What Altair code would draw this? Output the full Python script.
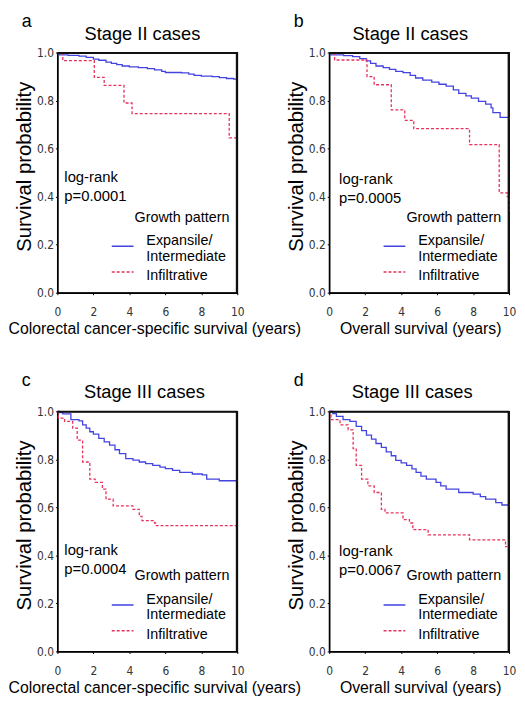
import altair as alt
import pandas as pd

# ---------------- data ----------------
GROUPS = ["Expansile/Intermediate", "Infiltrative"]
LEGEND_LABELS = ["Expansile/\nIntermediate", "Infiltrative"]
COLORS = ["#4343e0", "#e8315c"]

# a: Stage II, colorectal cancer-specific survival
A_EXP_T = [0, 0.1, 0.6, 1.2, 1.6, 2.0, 2.3, 2.7, 3.0, 3.3, 3.6, 4.0, 4.5, 5.0, 5.4, 5.8, 6.0, 6.9, 7.3, 7.6, 8.0, 8.6, 9.0, 9.4, 9.8, 10]
A_EXP_S = [1.0, 0.99, 0.988, 0.985, 0.98, 0.973, 0.968, 0.96, 0.955, 0.95, 0.944, 0.94, 0.937, 0.933, 0.928, 0.922, 0.917, 0.915, 0.91, 0.905, 0.902, 0.9, 0.896, 0.892, 0.889, 0.889]
A_INF_T = [0, 0.3, 2.05, 2.6, 3.7, 4.15, 9.55, 10]
A_INF_S = [1.0, 0.966, 0.897, 0.863, 0.79, 0.746, 0.645, 0.645]

# b: Stage II, overall survival
B_EXP_T = [0, 0.1, 0.8, 1.3, 1.7, 2.06, 2.3, 2.6, 3.0, 3.35, 3.7, 4.1, 4.5, 4.8, 5.2, 5.7, 6.1, 6.5, 6.9, 7.2, 7.6, 7.9, 8.3, 8.7, 9.0, 9.1, 9.5, 10]
B_EXP_S = [1.0, 0.99, 0.987, 0.983, 0.975, 0.965, 0.955, 0.944, 0.937, 0.93, 0.922, 0.916, 0.905, 0.894, 0.885, 0.877, 0.868, 0.86, 0.845, 0.83, 0.82, 0.81, 0.797, 0.785, 0.77, 0.75, 0.73, 0.719]
B_INF_T = [0, 0.3, 2.1, 2.5, 3.45, 4.2, 4.7, 7.8, 9.45, 9.9, 10]
B_INF_S = [1.0, 0.969, 0.90, 0.866, 0.761, 0.718, 0.683, 0.617, 0.416, 0.40, 0.338]

# c: Stage III, colorectal cancer-specific survival
C_EXP_T = [0, 0.1, 0.3, 0.75, 1.2, 1.4, 1.6, 1.8, 2.0, 2.3, 2.6, 2.9, 3.2, 3.45, 3.8, 4.2, 4.55, 4.9, 5.3, 5.7, 6.0, 6.4, 6.8, 7.5, 8.05, 8.3, 9.0, 10]
C_EXP_S = [1.0, 0.995, 0.989, 0.965, 0.96, 0.944, 0.93, 0.915, 0.905, 0.887, 0.873, 0.859, 0.84, 0.824, 0.803, 0.797, 0.789, 0.782, 0.775, 0.768, 0.761, 0.754, 0.746, 0.739, 0.735, 0.718, 0.711, 0.708]
C_INF_T = [0, 0.05, 0.4, 0.85, 1.1, 1.4, 1.8, 2.1, 2.5, 2.7, 3.1, 4.2, 4.55, 4.7, 5.4, 5.5, 10]
C_INF_S = [1.0, 0.972, 0.958, 0.93, 0.88, 0.789, 0.718, 0.704, 0.676, 0.634, 0.606, 0.592, 0.563, 0.545, 0.535, 0.524, 0.524]

# d: Stage III, overall survival
D_EXP_T = [0, 0.2, 0.4, 0.77, 1.15, 1.5, 1.8, 2.07, 2.35, 2.6, 2.9, 3.17, 3.45, 3.7, 4.0, 4.3, 4.6, 4.83, 5.1, 5.4, 5.94, 6.2, 6.5, 7.2, 8.0, 8.4, 8.7, 9.26, 9.6, 10]
D_EXP_S = [1.0, 0.99, 0.979, 0.965, 0.958, 0.937, 0.92, 0.901, 0.884, 0.866, 0.85, 0.831, 0.815, 0.796, 0.785, 0.775, 0.76, 0.746, 0.73, 0.718, 0.704, 0.69, 0.676, 0.662, 0.655, 0.645, 0.634, 0.62, 0.61, 0.603]
D_INF_T = [0, 0.1, 0.6, 1.05, 1.33, 1.5, 1.8, 2.15, 2.5, 2.9, 3.1, 4.1, 4.46, 4.65, 5.5, 7.8, 9.8, 9.9]
D_INF_S = [1.0, 0.965, 0.944, 0.923, 0.845, 0.775, 0.718, 0.69, 0.662, 0.592, 0.577, 0.549, 0.535, 0.507, 0.486, 0.465, 0.437, 0.437]

PANEL_LETTERS = ["a", "b", "c", "d"]
PANEL_TITLES = ["Stage II cases", "Stage II cases", "Stage III cases", "Stage III cases"]
X_TITLES = ["Colorectal cancer-specific survival (years)", "Overall survival (years)",
            "Colorectal cancer-specific survival (years)", "Overall survival (years)"]
NOTES = ["log-rank\np=0.0001", "log-rank\np=0.0005", "log-rank\np=0.0004", "log-rank\np=0.0067"]
LEGEND_TITLE = "Growth pattern"
Y_TITLE = "Survival probability"
X_TICKS = [0, 2, 4, 6, 8, 10]
Y_TICKS = [0.0, 0.2, 0.4, 0.6, 0.8, 1.0]

# ---------------- styling ----------------
W, H = 182, 243
SANS = "Liberation Sans, Arial, sans-serif"
NARROW = "Liberation Sans Narrow, Arial Narrow, DejaVu Sans Condensed, sans-serif"
DASHES = [[1, 0], [3, 2]]
FRAME = "#111111"


def text_layer(txt, x, y, size, align="left", baseline="alphabetic", line_height=None):
    kw = {}
    if line_height is not None:
        kw["lineHeight"] = line_height
    return alt.Chart(pd.DataFrame({"t": [txt]})).mark_text(
        font=SANS, fontSize=size, align=align, baseline=baseline, color="black",
        lineBreak="\n", **kw
    ).encode(text="t:N", x=alt.value(x), y=alt.value(y))


def legend_layers():
    one = pd.DataFrame({"f": [0]})
    out = [text_layer(LEGEND_TITLE, 174, 171, 14.5, align="right")]
    sym_y = [196, 222]
    lab_y = [195, 230]
    for k in range(2):
        out.append(alt.Chart(one).mark_rule(color=COLORS[k], strokeWidth=1.4, strokeDash=DASHES[k]).encode(
            x=alt.value(55), x2=alt.value(77), y=alt.value(sym_y[k])))
        out.append(text_layer(LEGEND_LABELS[k], 90, lab_y[k], 14.5, line_height=15.5))
    return out


def frame_layers():
    one = pd.DataFrame({"f": [0]})
    return [
        alt.Chart(one).mark_rule(color=FRAME, strokeWidth=2).encode(
            x=alt.value(0), x2=alt.value(W), y=alt.value(0.5)),
        alt.Chart(one).mark_rule(color=FRAME, strokeWidth=2).encode(
            x=alt.value(W - 0.5), y=alt.value(0), y2=alt.value(H)),
    ]


def panel(i, exp_t, exp_s, inf_t, inf_s, title_x, note_x, note_y, xtitle_x):
    df = pd.DataFrame({
        "time": exp_t + inf_t,
        "surv": exp_s + inf_s,
        "group": [GROUPS[0]] * len(exp_t) + [GROUPS[1]] * len(inf_t),
    })
    xscale = alt.Scale(domain=[0, 10], nice=False, zero=False)
    yscale = alt.Scale(domain=[0, 1], nice=False)
    lines = alt.Chart(df).mark_line(interpolate="step-after", strokeWidth=1.3).encode(
        x=alt.X("time:Q", scale=xscale,
                axis=alt.Axis(values=X_TICKS, title=X_TITLES[i], grid=False, labelFlush=False,
                              titleX=xtitle_x, titleY=41, titleBaseline="alphabetic", titleAlign="center",
                              titleFont=SANS, titleFontSize=16, titleFontWeight="normal", titleColor="black",
                              labelFont=NARROW, labelFontSize=12, labelColor="#333",
                              labelPadding=12, tickSize=2, tickColor="black",
                              domainColor="black", domainWidth=1.5)),
        y=alt.Y("surv:Q", scale=yscale,
                axis=alt.Axis(values=Y_TICKS, format=".1f", title=Y_TITLE, grid=False, labelFlush=False,
                              titleX=-27, titleY=115, titleAngle=-90, titleBaseline="alphabetic",
                              titleAlign="center",
                              titleFont=SANS, titleFontSize=20.5, titleFontWeight="normal", titleColor="black",
                              labelFont=NARROW, labelFontSize=12, labelColor="#333",
                              labelPadding=2, tickSize=2, tickColor="black",
                              domainColor="black", domainWidth=1.5)),
        color=alt.Color("group:N", scale=alt.Scale(domain=GROUPS, range=COLORS), legend=None),
        strokeDash=alt.StrokeDash("group:N", scale=alt.Scale(domain=GROUPS, range=DASHES), legend=None),
    )
    letter = text_layer(PANEL_LETTERS[i], -36, -26, 18)
    title = text_layer(PANEL_TITLES[i], title_x, -13, 18.5, align="center")
    note = text_layer(NOTES[i], note_x, note_y, 15, line_height=19.5)
    return alt.layer(lines, letter, title, note, *legend_layers(), *frame_layers()).properties(
        width=W, height=H)


pa = panel(0, A_EXP_T, A_EXP_S, A_INF_T, A_INF_S, 86, 7, 131, 98)
pb = panel(1, B_EXP_T, B_EXP_S, B_INF_T, B_INF_S, 82, 10, 133, 92)
pc = panel(2, C_EXP_T, C_EXP_S, C_INF_T, C_INF_S, 88, 7, 145, 98)
pd_ = panel(3, D_EXP_T, D_EXP_S, D_INF_T, D_INF_S, 84, 10, 146, 92)

chart = alt.concat(
    pa, pb, pc, pd_, columns=2, spacing={"row": 120, "column": 93}, bounds="flush"
).properties(
    padding={"left": -1, "top": 0, "right": 0, "bottom": 0}
).configure_view(
    stroke="black", strokeWidth=1.3
)

chart.save("out.html", embed_options={"renderer": "svg", "actions": False})
